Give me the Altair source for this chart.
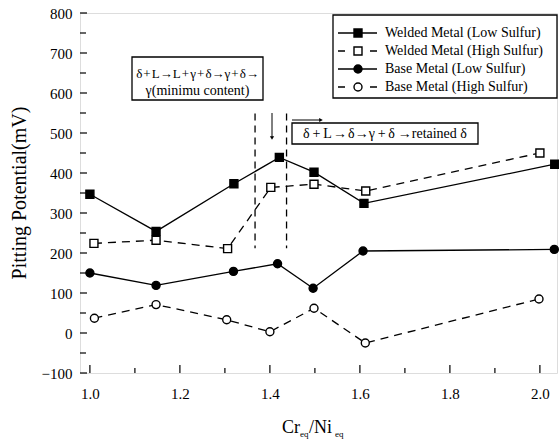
import altair as alt
import pandas as pd

# ---------------- data ----------------
series = ["Welded Metal (Low Sulfur)", "Welded Metal (High Sulfur)",
          "Base Metal (Low Sulfur)", "Base Metal (High Sulfur)"]

x_wl = [1.0, 1.147, 1.32, 1.421, 1.498, 1.609, 2.033]
y_wl = [347, 254, 373, 439, 402, 324, 422]
x_wh = [1.009, 1.147, 1.306, 1.402, 1.498, 1.613, 2.0]
y_wh = [224, 232, 211, 364, 372, 355, 450]
x_bl = [1.0, 1.147, 1.319, 1.417, 1.496, 1.607, 2.032]
y_bl = [150, 119, 154, 173, 112, 205, 209]
x_bh = [1.01, 1.147, 1.304, 1.4, 1.498, 1.612, 1.998]
y_bh = [37, 71, 33, 3, 62, -25, 85]

x_major = [1.0, 1.2, 1.4, 1.6, 1.8, 2.0]
x_minor = [1.1, 1.3, 1.5, 1.7, 1.9]
y_major = [-100, 0, 100, 200, 300, 400, 500, 600, 700, 800]
y_minor = [-50, 50, 150, 250, 350, 450, 550, 650, 750]

# boundaries of the phase regions
v_lines_x = [1.367, 1.437]
v_lines_top = 549
v_lines_bottom = 212

HS = "\u200a"
TS = "\u2009"
box1_lines = [f"δ{HS}+{HS}L→L{HS}+{HS}γ{HS}+{HS}δ→γ{HS}+{HS}δ→", "γ(minimu content)"]
box2_text = f"δ{TS}+{TS}L{HS}→{HS}δ→γ{TS}+{TS}δ{TS}→retained δ"

FONT = "Liberation Serif"
W, H = 477, 360

xs = alt.Scale(domain=[0.978, 2.038], nice=False, zero=False)
ys = alt.Scale(domain=[-100, 800], nice=False, zero=False)

x_axis = alt.Axis(values=x_major, format=".1f", ticks=False, grid=False, domain=False,
                  labelFont=FONT, labelFontSize=15, labelColor="black", labelPadding=13,
                  title=None)
y_axis = alt.Axis(values=y_major, format="d", ticks=False, grid=False, domain=False,
                  labelFont=FONT, labelFontSize=15, labelColor="black", labelPadding=8,
                  title=None)


def df(xv, yv):
    return pd.DataFrame({"x": xv, "y": yv})


def X():
    return alt.X("x:Q", scale=xs, axis=x_axis, title=None)


def Y():
    return alt.Y("y:Q", scale=ys, axis=y_axis, title=None)


ONE = pd.DataFrame({"a": [0]})
layers = []

# inward ticks
layers.append(alt.Chart(pd.DataFrame({"y": y_major})).mark_rule(color="black", strokeWidth=1.2)
              .encode(y=Y(), x=alt.value(0), x2=alt.value(7)))
layers.append(alt.Chart(pd.DataFrame({"y": y_minor})).mark_rule(color="black", strokeWidth=1.2)
              .encode(y=Y(), x=alt.value(0), x2=alt.value(6)))
layers.append(alt.Chart(pd.DataFrame({"x": x_major})).mark_rule(color="black", strokeWidth=1.2)
              .encode(x=X(), y=alt.value(H), y2=alt.value(H - 8)))
layers.append(alt.Chart(pd.DataFrame({"x": x_minor})).mark_rule(color="black", strokeWidth=1.2)
              .encode(x=X(), y=alt.value(H), y2=alt.value(H - 5)))

# dashed vertical boundaries
layers.append(alt.Chart(pd.DataFrame({"x": v_lines_x, "y": [v_lines_top] * 2,
                                      "y2": [v_lines_bottom] * 2}))
              .mark_rule(color="black", strokeWidth=1.3, strokeDash=[7, 5])
              .encode(x=X(), y=Y(), y2="y2:Q"))

# series lines and markers
specs = [
    (x_wl, y_wl, None, "square", "black"),
    (x_wh, y_wh, [8, 6], "square", "white"),
    (x_bl, y_bl, None, "circle", "black"),
    (x_bh, y_bh, [8, 6], "circle", "white"),
]
for xv, yv, dash, shape, fill in specs:
    lk = dict(color="black", strokeWidth=1.3)
    if dash:
        lk["strokeDash"] = dash
    layers.append(alt.Chart(df(xv, yv)).mark_line(**lk).encode(x=X(), y=Y()))
for xv, yv, dash, shape, fill in specs:
    layers.append(alt.Chart(df(xv, yv)).mark_point(shape=shape, size=64, filled=True,
                                                    fill=fill, stroke="black",
                                                    strokeWidth=1.4, opacity=1)
                  .encode(x=X(), y=Y()))

# ---------------- annotations (pixel positions) ----------------


def rect(x1, x2, y1, y2):
    return alt.Chart(ONE).mark_rect(fill="white", stroke="black", strokeWidth=1.3).encode(
        x=alt.value(x1), x2=alt.value(x2), y=alt.value(y1), y2=alt.value(y2))


def rule(x1, x2, y1, y2, dash=None, sw=1.3):
    kw = dict(color="black", strokeWidth=sw)
    if dash:
        kw["strokeDash"] = dash
    return alt.Chart(ONE).mark_rule(**kw).encode(
        x=alt.value(x1), x2=alt.value(x2), y=alt.value(y1), y2=alt.value(y2))


def text(t, x, y, size=14, align="center", baseline="middle", angle=None):
    kw = dict(font=FONT, fontSize=size, color="black", align=align, baseline=baseline)
    if angle is not None:
        kw["angle"] = angle
    return alt.Chart(ONE).mark_text(**kw).encode(
        x=alt.value(x), y=alt.value(y), text=alt.value(t))


def marker(shape, fill, x, y, size=64, sw=1.4):
    return alt.Chart(ONE).mark_point(shape=shape, size=size, filled=True, fill=fill,
                                     stroke="black", strokeWidth=sw, opacity=1).encode(
        x=alt.value(x), y=alt.value(y))


layers.append(rect(52, 183, 44, 87))
layers.append(rect(212, 398, 110, 131))
layers.append(rect(253, 477, 2, 85))
layers.append(text(box1_lines[0], 117.5, 61, size=13))
layers.append(text(box1_lines[1], 117.5, 78, size=14))
layers.append(text(box2_text, 305, 121))

# arrows
layers.append(rule(192, 192, 100, 124, sw=1))
layers.append(rule(212, 240, 107, 107, sw=1))
hd = alt.Chart(ONE).mark_point(shape="triangle-down", size=18, filled=True, color="black",
                               opacity=1).encode(x=alt.value(192), y=alt.value(125))
hr = alt.Chart(ONE).mark_point(shape="triangle-right", size=18, filled=True, color="black",
                               opacity=1).encode(x=alt.value(241), y=alt.value(107))
layers += [hd, hr]

# legend
leg_y = [20, 38, 56, 74]
for i, (xv, yv, dash, shape, fill) in enumerate(specs):
    layers.append(rule(258, 297, leg_y[i], leg_y[i], dash=[7, 9] if dash else None))
    layers.append(marker(shape, fill, 278, leg_y[i]))
    layers.append(text(series[i], 305, leg_y[i], size=14, align="left"))

# axis titles
layers.append(text("Pitting Potential(mV)", -60, H / 2, size=20, angle=270))
layers.append(text("Cr", 202, 420, size=18, align="left", baseline="alphabetic"))
layers.append(text("eq", 220, 424, size=9, align="left", baseline="alphabetic"))
layers.append(text("/Ni", 229, 420, size=18, align="left", baseline="alphabetic"))
layers.append(text("eq", 255, 424, size=9, align="left", baseline="alphabetic"))

chart = alt.layer(*layers).properties(
    width=W, height=H,
    autosize=alt.AutoSizeParams(type="none"),
    padding={"left": 80, "top": 13, "right": 2, "bottom": 69},
).configure_view(stroke="black", strokeWidth=1.3).configure(background="white")

chart.save("out.html", embed_options={"renderer": "svg", "actions": False})
